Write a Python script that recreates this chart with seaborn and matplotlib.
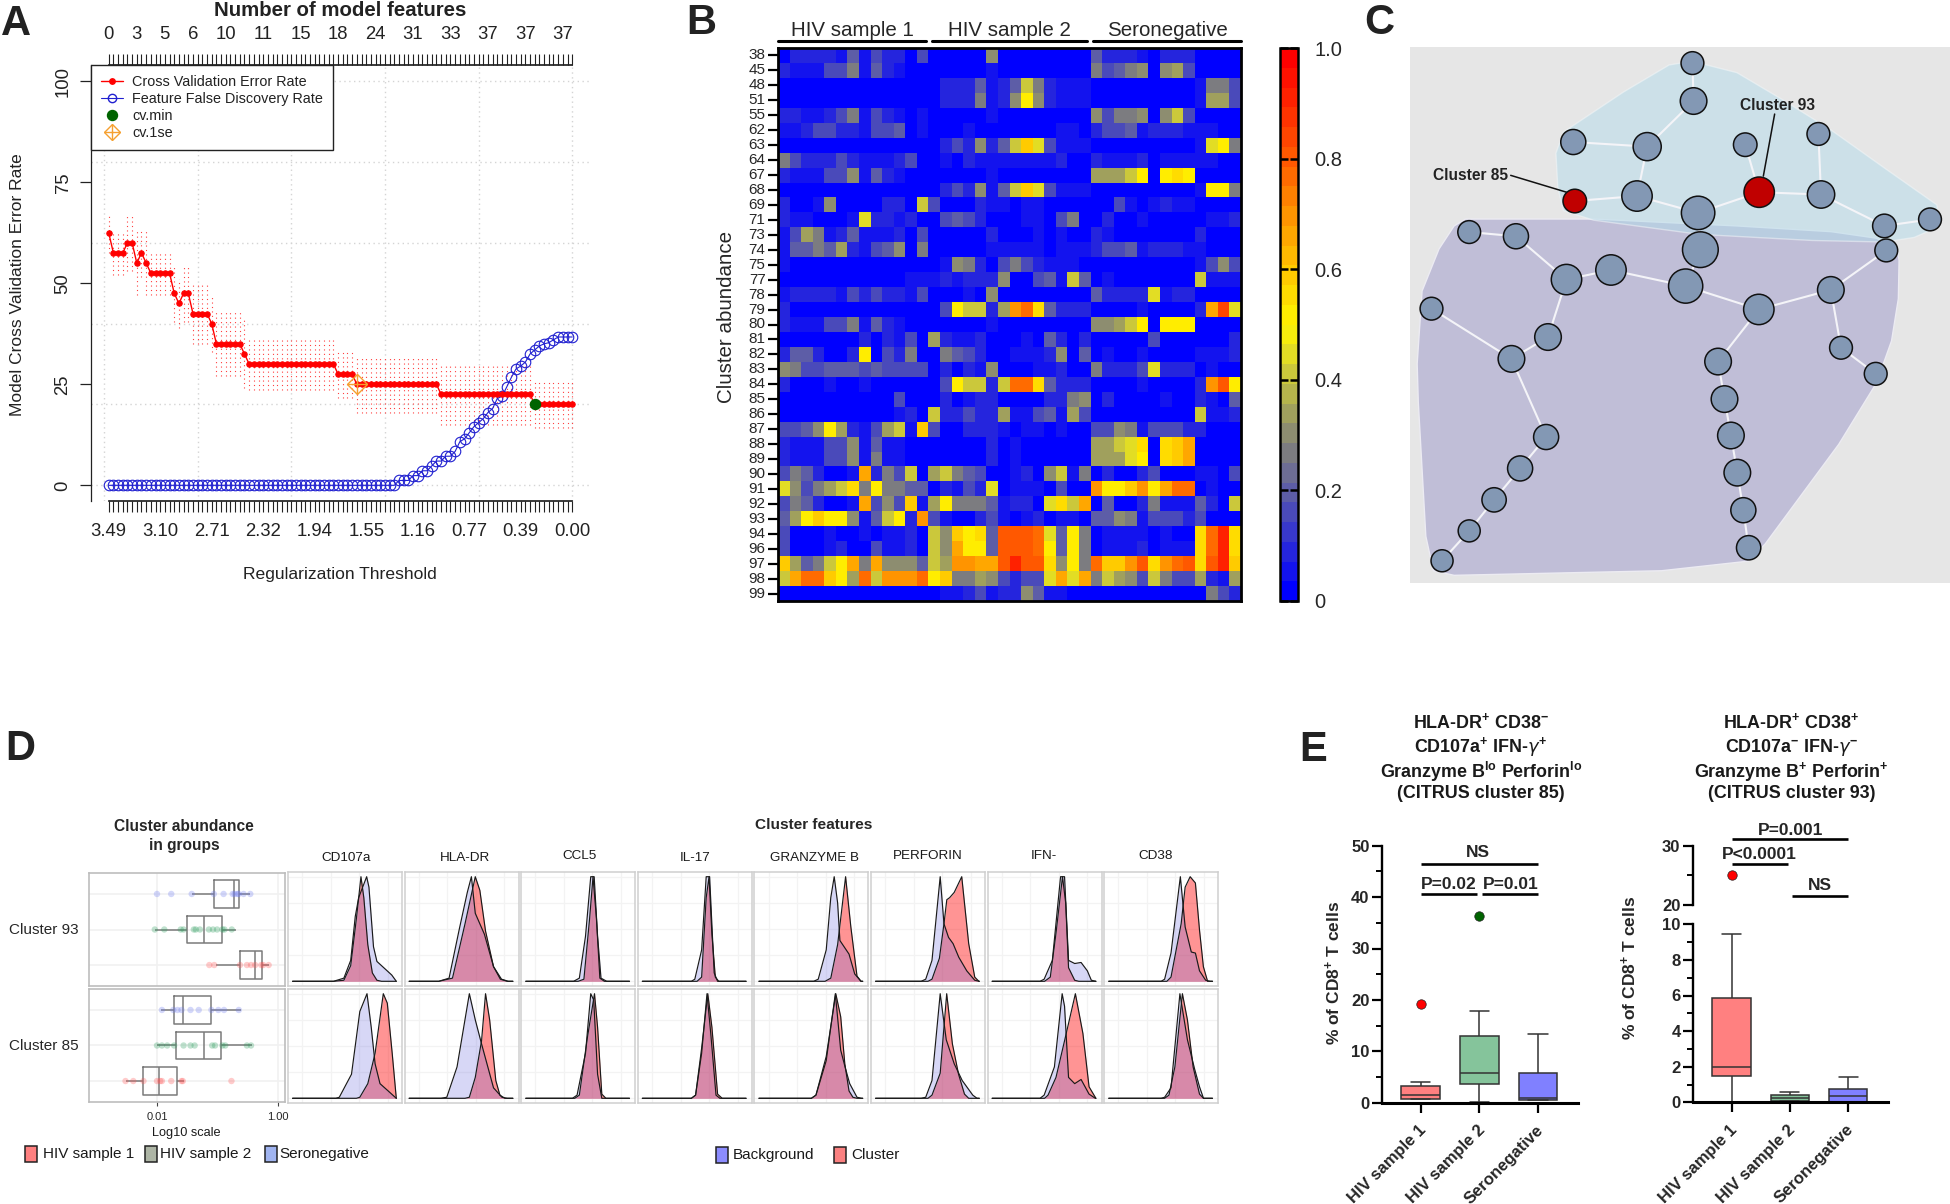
import numpy as np
import pandas as pd
import seaborn as sns
import matplotlib.pyplot as plt
from matplotlib.colors import LinearSegmentedColormap
from matplotlib.legend_handler import HandlerTuple
from matplotlib.lines import Line2D
from matplotlib.patches import Polygon, Rectangle
from matplotlib.transforms import ScaledTranslation

W, H = 1950, 1204

# panel A
cv_error = ([62.5] + [57.5] * 3 + [60] * 2 + [55, 57.5, 55] + [52.5] * 5 + [47.5, 45] + [47.5] * 2
            + [42.5] * 4 + [40] + [35] * 6 + [32.5] + [30] * 19 + [27.5] * 4 + [25] * 18
            + [22.5] * 20 + [20] * 9)
cv_se = ([5] + [5.5] * 3 + [7] * 2 + [8, 6, 8] + [5.5] * 5 + [7, 6] + [7] * 2
         + [7.5] * 4 + [7] + [8] * 6 + [8.5] + [6.5] * 19 + [6] * 4 + [7] * 18
         + [7.5] * 20 + [5.7] * 9)
fdr = [0] * 62 + [1.2, 1.2, 1.2, 2.4, 2.4, 3.6, 3.6, 4.8, 6.0, 6.0, 7.2, 7.2, 8.4, 10.8, 11.5, 13,
                  14.5, 15.5, 16.5, 18, 19, 21.5, 22, 24.3, 26.7, 28.8, 29.5, 30.5, 32.5, 33.5,
                  34.5, 35, 35.3, 36, 36.7, 36.7, 36.7, 36.7]
top_tick_pos = [0, 6, 12, 18, 25, 33, 41, 49, 57, 65, 73, 81, 89, 97]
top_tick_labels = ['0', '3', '5', '6', '10', '11', '15', '18', '24', '31', '33', '37', '37', '37']
bottom_tick_pos = [0, 11, 22, 33, 44, 55, 66, 77, 88, 99]
bottom_tick_labels = ['3.49', '3.10', '2.71', '2.32', '1.94', '1.55', '1.16', '0.77', '0.39', '0.00']
cv_min = (91, 20)
cv_1se = (53, 25)

# panel B, levels are in steps of 0.05
cluster_ids = [38, 45, 48, 51, 55, 62, 63, 64, 67, 68, 69, 71, 73, 74, 75, 77, 78, 79, 80, 81, 82, 83,
               84, 85, 86, 87, 88, 89, 90, 91, 92, 93, 94, 96, 97, 98, 99]
heat_levels = [
    [0,2,2,2,2,1,4,1,3,2,2,0,3, 0,0,0,0,0,6,0,0,0,0,0,0,0,0, 4,2,2,2,1,0,2,2,2,0,0,0,0],
    [2,1,1,1,3,3,5,1,4,2,1,0,0, 0,0,0,0,0,1,0,0,0,0,0,0,0,0, 5,3,4,5,6,0,6,7,3,0,0,0,0],
    [0,0,0,0,0,0,0,0,0,0,0,0,0, 0,2,2,2,4,1,2,4,8,5,2,1,1,1, 0,0,0,0,0,0,0,0,0,1,5,5,3],
    [0,0,0,0,0,0,0,0,0,0,0,0,0, 0,2,2,2,5,1,2,6,10,6,2,1,1,1, 0,0,0,0,0,0,0,0,0,1,7,7,3],
    [2,2,1,1,2,3,5,1,3,2,1,0,1, 0,0,0,0,0,1,0,0,0,0,0,0,0,0, 6,3,5,5,6,0,6,8,3,0,0,0,0],
    [1,1,2,3,3,2,2,1,3,3,4,0,1, 0,0,0,1,0,0,0,0,0,0,0,1,1,0, 2,3,3,4,1,2,2,2,1,1,1,0,0],
    [0,0,0,0,0,0,0,0,0,0,0,0,0, 0,2,3,2,6,2,4,8,12,9,3,1,1,1, 0,0,0,0,0,0,0,0,0,1,9,10,5],
    [5,3,2,2,2,3,2,1,1,1,2,3,0, 0,1,0,2,1,1,1,1,1,1,1,2,0,0, 2,1,1,1,2,0,1,1,1,1,1,0,0],
    [2,1,1,1,3,3,6,1,4,2,1,0,0, 0,0,0,0,0,1,0,0,0,0,0,0,0,0, 7,7,7,8,10,0,10,11,10,0,0,0,0],
    [0,0,0,0,0,0,0,0,0,0,0,0,0, 0,2,3,2,6,1,4,8,12,9,3,1,1,1, 0,0,0,0,0,0,0,0,0,1,10,10,5],
    [2,0,0,1,6,0,0,0,0,2,2,0,8, 3,0,0,0,2,1,1,0,1,1,0,0,0,0, 0,0,3,1,0,1,2,1,1,0,0,0,0],
    [2,1,1,0,0,0,1,9,2,2,1,2,0, 0,3,4,3,2,0,0,0,1,1,0,3,5,0, 0,2,0,0,1,0,0,0,0,0,1,1,2],
    [1,3,7,5,1,2,4,1,1,1,2,0,3, 0,0,0,0,0,2,0,0,0,1,0,1,0,0, 2,1,0,0,0,0,0,0,0,2,0,0,0],
    [1,4,4,5,4,7,2,1,3,4,6,0,5, 0,0,0,0,0,1,1,1,1,1,0,1,1,1, 2,3,3,4,1,2,2,2,1,1,0,0,0],
    [1,0,0,0,0,0,0,0,0,0,0,0,0, 0,1,6,5,2,0,3,5,3,2,1,1,1,0, 0,0,0,0,0,0,0,0,0,1,3,6,3],
    [0,0,0,0,0,0,0,0,0,0,0,1,1, 1,2,1,2,2,2,6,0,0,3,4,1,8,4, 0,1,0,0,0,0,0,0,0,8,1,1,1],
    [1,2,2,2,2,1,3,2,3,2,2,1,3, 0,0,0,1,0,6,0,0,0,0,0,0,0,0, 4,2,2,2,2,9,1,2,2,0,0,0,0],
    [2,0,0,0,0,0,0,0,0,0,0,0,0, 0,3,10,8,8,2,7,14,15,11,4,2,2,2, 0,0,0,0,1,0,0,0,0,2,13,17,9],
    [2,1,1,1,3,3,5,1,4,2,1,0,0, 0,0,0,0,0,1,0,0,0,0,0,0,0,0, 6,6,7,8,10,0,10,10,10,0,0,0,0],
    [0,0,0,0,0,0,0,2,0,2,1,3,0, 7,2,1,1,2,0,0,0,1,0,4,2,0,2, 0,0,0,0,0,3,0,0,0,0,0,0,2],
    [2,4,4,2,0,0,2,10,0,3,2,5,0, 0,5,4,3,2,0,0,1,1,1,2,6,0,4, 0,1,0,0,1,0,0,0,0,1,1,1,2],
    [6,5,3,3,4,4,4,3,4,3,3,3,3, 0,2,0,2,1,6,0,0,0,1,1,2,0,0, 5,2,2,2,3,9,2,2,2,0,1,0,0],
    [2,0,0,0,1,0,0,1,0,0,0,0,0, 0,3,10,8,8,2,8,15,15,11,4,2,2,2, 0,0,0,0,1,0,0,0,0,2,14,16,10],
    [0,0,0,0,0,0,0,0,0,0,3,0,0, 0,2,0,1,2,2,0,0,0,0,2,2,5,6, 0,2,0,0,0,0,1,0,0,2,1,0,4],
    [0,0,0,0,0,0,0,0,0,0,1,2,0, 8,2,2,3,2,2,7,1,1,3,4,1,7,3, 0,0,0,0,0,0,0,0,0,8,1,1,2],
    [3,3,4,6,10,7,2,1,3,7,8,1,12, 3,0,0,2,2,2,1,0,1,1,0,1,0,0, 3,3,6,5,1,3,3,3,2,2,0,0,0],
    [2,1,1,1,3,3,6,1,4,1,1,0,0, 0,0,0,0,0,2,0,1,0,0,0,0,0,0, 7,7,8,9,11,0,11,12,13,0,0,0,0],
    [2,1,1,1,3,3,6,1,5,1,1,0,0, 0,0,0,0,0,2,0,1,0,0,0,0,0,0, 7,7,7,9,10,0,11,12,13,0,0,0,0],
    [3,5,4,2,0,0,1,13,2,5,3,8,0, 7,8,5,4,3,0,0,1,2,0,6,8,1,5, 0,2,0,0,2,3,0,0,0,1,1,0,3],
    [9,6,3,5,7,8,11,5,10,5,5,4,4, 0,2,1,3,2,9,0,1,1,1,0,3,0,0, 14,10,10,12,14,10,13,15,15,0,1,0,0],
    [3,5,4,2,0,0,1,13,3,6,3,12,1, 7,10,5,5,5,4,1,2,2,0,9,11,8,13, 0,4,0,0,2,5,1,1,1,4,2,0,8],
    [4,7,10,12,10,10,6,1,4,8,10,2,14, 3,1,0,0,2,3,1,0,1,2,0,1,1,0, 4,4,6,5,1,3,3,3,2,3,0,0,0],
    [3,0,0,0,1,0,0,1,0,1,1,2,0, 8,6,12,10,11,4,16,16,16,15,9,4,10,5, 0,1,1,1,1,0,1,0,0,11,15,18,11],
    [3,0,0,0,1,2,0,0,3,1,1,2,0, 8,6,13,10,10,4,16,16,16,15,10,4,10,5, 0,1,1,1,2,0,1,1,1,11,15,18,11],
    [12,7,4,5,8,10,13,5,13,6,6,6,4, 8,7,14,14,13,13,16,18,16,16,11,6,10,5, 15,12,12,14,16,11,14,15,16,11,16,18,12],
    [8,13,15,15,12,10,7,15,8,14,14,14,15, 10,12,5,5,7,6,3,2,3,3,9,13,9,13, 5,8,7,6,3,8,5,3,3,7,2,1,7],
    [0,0,0,0,0,0,0,0,0,0,0,0,0, 0,1,1,2,3,1,2,2,6,4,1,1,0,0, 0,0,0,0,0,0,0,0,0,0,5,3,2],
]
group_names = ['HIV sample 1', 'HIV sample 2', 'Seronegative']

# panel C, positions are on the network layout
node_x = [882, 885, 566, 762, 1022, 1216, 570, 735, 1059, 1223, 897, 1391, 1512,
          903, 1396, 290, 414, 548, 666, 864, 1058, 1249, 190, 499, 402, 950, 1276, 1368,
          967, 494, 984, 425, 1001, 356, 1017, 290, 218, 1031]
node_y = [165, 264, 371, 383, 378, 350, 525, 512, 502, 508, 556, 590, 573,
          652, 654, 606, 617, 730, 705, 747, 808, 757, 806, 880, 937, 944, 908, 976,
          1042, 1141, 1137, 1223, 1234, 1305, 1332, 1386, 1464, 1430]
node_r = [30, 35, 33, 37, 31, 30, 31, 40, 40, 36, 44, 31, 30,
          47, 30, 30, 33, 40, 40, 45, 40, 35, 30, 35, 35, 35, 30, 30,
          35, 33, 35, 33, 35, 32, 33, 29, 29, 32]
red_nodes = [6, 8]
edges = [(0, 1), (1, 3), (2, 3), (3, 7), (6, 7), (7, 10), (10, 8), (8, 4), (8, 9), (9, 5), (9, 11), (11, 12),
         (10, 13), (11, 14), (13, 19), (15, 16), (16, 17), (17, 18), (18, 19), (19, 20), (20, 21), (21, 14),
         (21, 26), (26, 27), (17, 23), (23, 24), (22, 24), (24, 29), (29, 31), (31, 33), (33, 35), (35, 36),
         (20, 25), (25, 28), (28, 30), (30, 32), (32, 34), (34, 37)]
hull_top = [(880, 160), (1000, 190), (1120, 260), (1250, 340), (1400, 445), (1530, 535), (1540, 590), (1470, 620),
            (1390, 632), (1200, 628), (900, 612), (620, 575), (540, 550), (525, 490), (520, 400), (540, 345),
            (700, 240), (820, 170)]
hull_low = [(280, 572), (620, 572), (1000, 590), (1250, 605), (1370, 622), (1425, 650), (1430, 680), (1428, 780),
            (1410, 890), (1370, 1000), (1270, 1160), (1075, 1420), (1030, 1465), (800, 1490), (250, 1502), (195, 1490),
            (175, 1400), (155, 1050), (152, 950), (165, 760), (210, 650), (250, 590)]

# panel D boxes: five numbers and points for each group
box_93 = {'Seronegative': [0.0375, 0.0869, 0.184, 0.224, 0.348],
          'HIV sample 2': [0.0092, 0.0311, 0.0598, 0.117, 0.201],
          'HIV sample 1': [0.0955, 0.239, 0.412, 0.544, 0.70]}
box_85 = {'Seronegative': [0.0117, 0.0189, 0.027, 0.0793, 0.2427],
          'HIV sample 2': [0.010, 0.0208, 0.0589, 0.115, 0.375],
          'HIV sample 1': [0.00302, 0.00598, 0.011, 0.0211, 0.0275]}
points_93 = {'Seronegative': [0.010, 0.0172, 0.0375, 0.0869, 0.126, 0.178, 0.192, 0.214, 0.224, 0.270, 0.348],
             'HIV sample 2': [0.0092, 0.0132, 0.0247, 0.0275, 0.0406, 0.0438, 0.0512, 0.0721, 0.0843, 0.0984, 0.1205,
                              0.1303, 0.172],
             'HIV sample 1': [0.0733, 0.0883, 0.2355, 0.306, 0.358, 0.419, 0.529, 0.571, 0.70]}
points_85 = {'Seronegative': [0.01206, 0.0186, 0.0218, 0.0254, 0.0358, 0.0489, 0.0793, 0.1033, 0.1282, 0.2244],
             'HIV sample 2': [0.010, 0.01206, 0.01476, 0.0192, 0.0275, 0.0358, 0.0419, 0.0817, 0.091, 0.1205, 0.1343,
                              0.306, 0.358],
             'HIV sample 1': [0.00302, 0.00406, 0.00598, 0.010, 0.0113, 0.01206, 0.0172, 0.0254, 0.0267, 0.17]}
box_order = ['Seronegative', 'HIV sample 2', 'HIV sample 1']

# panel D densities, (position, height) read across each small panel
markers = ['CD107a', 'HLA-DR', 'CCL5', 'IL-17', 'GRANZYME B', 'PERFORIN', 'IFN-', 'CD38']
density_93_bg = [
    [(.40, 0), (.49, .03), (.55, .2), (.59, .62), (.62, .8), (.69, 1), (.71, .9), (.75, .33), (.78, .19), (.85, .12), (.91, .06)],
    [(.30, 0), (.39, .03), (.48, .5), (.55, .85), (.586, 1), (.62, .65), (.70, .45), (.78, .14), (.85, .02), (.91, 0)],
    [(.46, 0), (.51, .03), (.564, .43), (.61, 1), (.64, 1), (.67, .43), (.70, .03), (.75, 0)],
    [(.47, 0), (.5, .02), (.56, .3), (.60, 1), (.63, 1), (.67, .08), (.70, 0)],
    [(.52, 0), (.56, .02), (.63, .3), (.67, .8), (.70, 1), (.73, .75), (.75, .39), (.83, .26), (.88, .07), (.935, 0)],
    [(.44, 0), (.48, .02), (.535, .2), (.607, 1), (.64, .55), (.68, .42), (.72, .36), (.77, .23), (.84, .1), (.91, .01)],
    [(.46, 0), (.496, .02), (.568, .2), (.64, 1), (.675, 1), (.71, .2), (.764, .17), (.82, .18), (.875, .1), (.91, .01)],
    [(.50, 0), (.53, .02), (.586, .27), (.668, 1), (.71, .52), (.764, .28), (.80, .27), (.836, .1), (.89, .01), (.93, 0)],
]
density_93_cl = [
    [(.40, 0), (.49, .01), (.55, .15), (.60, .6), (.64, 1), (.665, .8), (.70, .35), (.74, .08), (.78, .01), (.82, 0)],
    [(.30, 0), (.42, .03), (.53, .55), (.62, 1), (.66, .87), (.71, .48), (.78, .14), (.84, .02), (.9, 0)],
    [(.5, 0), (.55, .02), (.60, .6), (.63, 1), (.66, .6), (.69, .03), (.73, 0)],
    [(.52, 0), (.56, .04), (.6, .8), (.625, 1), (.65, .45), (.68, .04), (.71, 0)],
    [(.62, 0), (.67, .03), (.73, .35), (.757, .6), (.80, 1), (.846, .52), (.90, .05), (.935, 0)],
    [(.5, 0), (.535, .02), (.6, .22), (.64, .55), (.665, .78), (.69, .8), (.73, .85), (.796, 1), (.857, .36), (.91, .04), (.946, 0)],
    [(.5, 0), (.55, .04), (.6, .46), (.657, 1), (.685, .75), (.71, .13), (.764, .01), (.8, 0)],
    [(.55, 0), (.586, .04), (.675, .55), (.71, .9), (.754, 1), (.8, .94), (.836, .49), (.87, .14), (.907, 0)],
]
density_85_bg = [
    [(.42, 0), (.45, .01), (.557, .23), (.63, .83), (.693, 1), (.73, .68), (.764, .33), (.807, .14), (.879, .07)],
    [(.32, 0), (.37, .01), (.46, .3), (.568, 1), (.62, .75), (.675, .52), (.78, .1), (.854, .01), (.9, 0)],
    [(.45, 0), (.49, .03), (.564, .43), (.61, 1), (.636, .94), (.67, .23), (.707, 0)],
    [(.47, 0), (.507, .03), (.56, .43), (.607, 1), (.64, .62), (.686, .03), (.72, 0)],
    [(.5, 0), (.54, .03), (.63, .36), (.71, 1), (.757, .46), (.80, .28), (.836, .14), (.9, .01), (.94, 0)],
    [(.44, 0), (.48, .01), (.535, .17), (.607, 1), (.66, .56), (.73, .33), (.80, .17), (.893, .03), (.93, 0)],
    [(.46, 0), (.496, .03), (.586, .3), (.654, 1), (.675, .88), (.71, .2), (.764, .14), (.82, .18), (.89, .04), (.945, 0)],
    [(.5, 0), (.53, .01), (.586, .1), (.664, 1), (.73, .56), (.793, .28), (.836, .11), (.871, 0)],
]
density_85_cl = [
    [(.6, 0), (.63, .01), (.7, .14), (.764, .43), (.836, 1), (.871, .91), (.914, .43)],
    [(.53, 0), (.568, .01), (.62, .2), (.675, .55), (.71, 1), (.746, .75), (.8, .17), (.836, .03), (.88, 0)],
    [(.47, 0), (.51, .03), (.582, .59), (.643, 1), (.67, .68), (.707, .04), (.743, 0)],
    [(.47, 0), (.507, .03), (.56, .48), (.614, 1), (.65, .68), (.70, .04), (.74, 0)],
    [(.5, 0), (.54, .03), (.63, .4), (.714, 1), (.757, .78), (.793, .33), (.83, .07), (.864, .01), (.9, 0)],
    [(.5, 0), (.535, .03), (.607, .24), (.664, 1), (.714, .52), (.768, .23), (.82, .04), (.857, 0)],
    [(.5, 0), (.53, .03), (.6, .2), (.675, .55), (.77, 1), (.836, .62), (.89, .11)],
    [(.53, 0), (.568, .03), (.62, .3), (.686, 1), (.73, .75), (.78, .3), (.836, .04), (.871, 0)],
]

# panel E: low whisker, q1, median, q3, high whisker
e_groups = ['HIV sample 1', 'HIV sample 2', 'Seronegative']
stats_85 = [[0.7, 0.8, 1.5, 3.3, 4.1], [0.2, 3.7, 5.7, 13.0, 17.8], [0.5, 0.6, 0.9, 5.7, 13.4]]
stats_93 = [[0.0, 1.5, 2.0, 5.85, 9.45], [0.05, 0.1, 0.22, 0.4, 0.6], [0.0, 0.02, 0.35, 0.75, 1.4]]
outliers_85 = [19.2, 36.4]
outlier_93 = 25.0
e_palette = ['#ff8080', '#85c49b', '#8080ff']

sns.set_theme(style='white')
plt.rcParams['font.family'] = ['Liberation Sans', 'DejaVu Sans']
plt.rcParams['mathtext.default'] = 'regular'

fig = plt.figure(figsize=(W / 100, H / 100), dpi=100, facecolor='white')


def px_axes(x0, y0, x1, y1, **kw):
    return fig.add_axes([x0 / W, 1 - y1 / H, (x1 - x0) / W, (y1 - y0) / H], **kw)


def label(x, y, s, **kw):
    kw.setdefault('ha', 'center')
    kw.setdefault('va', 'center')
    fig.text(x / W, 1 - y / H, s, **kw)


def hline(x0, x1, y, lw=2.0):
    fig.add_artist(Line2D([x0 / W, x1 / W], [1 - y / H, 1 - y / H], color='black', lw=lw))


def square(x, y, color):
    fig.add_artist(Rectangle(((x - 6) / W, 1 - (y + 8) / H), 12 / W, 16 / H, facecolor=color,
                             edgecolor='#222222', lw=1.1, transform=fig.transFigure))


for letter, x, y in [('A', 16, 24), ('B', 701, 23), ('C', 1379, 23), ('D', 20, 749), ('E', 1313, 750)]:
    label(x, y, letter, fontsize=30, fontweight='bold', color='#222222')

# ---- A
ax = px_axes(91, 65, 590, 501)
idx = np.arange(len(cv_error))
ax.set_xlim(-3.78, 102.8)
ax.set_ylim(-3.88, 104)
for v in [0, 20, 40, 60, 80, 100]:
    ax.axhline(v, color='#d4d4d4', lw=1, ls=(0, (1, 2.5)), zorder=0)
for v in [-1, 19, 39, 59, 79, 99]:
    ax.axvline(v, color='#d4d4d4', lw=1, ls=(0, (1, 2.5)), zorder=0)
err = np.array(cv_se)
ax.vlines(idx, np.array(cv_error) - err, np.array(cv_error) + err, color='#ff4040', lw=0.8, ls=(0, (1, 3)), zorder=1)
sns.lineplot(x=idx, y=fdr, color='#2020d0', marker='o', ms=7.6, mfc='none', mec='#2020d0', mew=0.8, lw=0.8,
             estimator=None, ax=ax, zorder=2)
sns.lineplot(x=idx, y=cv_error, color='#ff0000', marker='o', ms=3.9, mec='#ff0000', lw=1, estimator=None, ax=ax, zorder=3)
ax.plot(*cv_min, 'o', color='#006400', ms=7.2, zorder=4)
ax.plot(*cv_1se, 'D', mfc='none', mec='#f5a030', ms=10.5, mew=1, zorder=5)
ax.plot(*cv_1se, '+', mec='#f5a030', ms=15, mew=1, zorder=5)
ax.spines['right'].set_visible(False)
ax.spines['left'].set_color('#222222')
ax.spines['left'].set_linewidth(0.9)
ax.spines['bottom'].set_bounds(0, 99)
ax.spines['top'].set_bounds(0, 99)
ax.spines['bottom'].set_color('#222222')
ax.spines['top'].set_color('#222222')
ax.set_yticks([0, 25, 50, 75, 100])
ax.set_yticklabels(['0', '25', '50', '75', '100'], rotation=90, va='center', fontsize=13.3, color='#222222')
ax.tick_params(axis='y', left=True, length=8, width=0.9, pad=6, color='#222222')
ax.set_xticks(idx)
ax.set_xticklabels([])
ax.tick_params(axis='x', bottom=True, top=True, length=8, width=0.8, color='#222222')
for p, t in zip(bottom_tick_pos, bottom_tick_labels):
    ax.annotate(t, (p, 0), xycoords=('data', 'axes fraction'), xytext=(0, -22), textcoords='offset points',
                ha='center', va='center', fontsize=13.3, color='#222222')
for p, t in zip(top_tick_pos, top_tick_labels):
    ax.annotate(t, (p, 1), xycoords=('data', 'axes fraction'), xytext=(0, 22), textcoords='offset points',
                ha='center', va='center', fontsize=13.3, color='#222222')
handles = [Line2D([], [], color='#ff0000', marker='o', ms=3.9, lw=1),
           Line2D([], [], color='#2020d0', marker='o', ms=6, mfc='none', lw=0.8),
           Line2D([], [], color='#006400', marker='o', ms=7.2, lw=0),
           (Line2D([], [], marker='D', mfc='none', mec='#f5a030', ms=8.5, lw=0),
            Line2D([], [], marker='+', mec='#f5a030', ms=12, lw=0))]
ax.legend(handles, ['Cross Validation Error Rate', 'Feature False Discovery Rate', 'cv.min', 'cv.1se'],
          handler_map={tuple: HandlerTuple(ndivide=1, pad=0)}, loc='upper left', bbox_to_anchor=(0, 1),
          borderaxespad=0, fancybox=False, framealpha=1, edgecolor='#222222', fontsize=10.4, labelspacing=0.2,
          handlelength=1.5, handletextpad=0.65, borderpad=0.7, labelcolor='#222222')
ax.get_legend().get_frame().set_linewidth(1)
label(340, 11, 'Number of model features', fontsize=14.7, fontweight='bold', color='#222222')
label(340, 575, 'Regularization Threshold', fontsize=12.6, color='#222222')
label(18, 285, 'Model Cross Validation Error Rate', fontsize=12.5, rotation=90, color='#222222')

# ---- B
heat_cmap = LinearSegmentedColormap.from_list('heat', [
    (0.0, (0, 0, 1)), (0.05, '#1919e8'), (0.1, '#3232d2'), (0.15, '#4b4bb9'), (0.2, '#6464a0'),
    (0.25, '#787884'), (0.3, '#8f8f6e'), (0.35, '#a9a955'), (0.4, '#c6c440'), (0.45, '#e6e020'),
    (0.5, '#fff500'), (0.6, '#ffc800'), (0.7, '#ff9600'), (0.8, '#ff5f00'), (0.9, '#ff2d00'), (1.0, '#ff0000')], N=28)
ax = px_axes(778, 48, 1241, 601)
cax = px_axes(1280, 48, 1298, 601)
sns.heatmap(np.array(heat_levels) / 20, vmin=0, vmax=1, cmap=heat_cmap, ax=ax, cbar_ax=cax,
            yticklabels=cluster_ids, xticklabels=False, cbar_kws={'ticks': [0, .2, .4, .6, .8, 1]})
for s in ax.spines.values():
    s.set_visible(True)
    s.set_linewidth(2)
    s.set_color('black')
ax.tick_params(axis='y', left=True, length=7, width=1.6, pad=2, labelsize=11, labelrotation=0, color='black')
cax.set_yticklabels(['0', '0.2', '0.4', '0.6', '0.8', '1.0'], fontsize=14.5)
cax.set_axisbelow(False)
cax.tick_params(axis='y', left=True, right=True, direction='in', length=5.5, width=1.8, color='black', pad=12)
cbar = ax.collections[0].colorbar
cbar.outline.set_linewidth(1.8)
cbar.outline.set_edgecolor('black')
for (x0, x1), name in zip([(778, 926), (931.5, 1087), (1093, 1241)], group_names):
    hline(x0, x1, 41, lw=2.2)
    label((x0 + x1) / 2, 30.5, name, fontsize=14.8)
label(727, 317, 'Cluster abundance', fontsize=14.8, rotation=90)

# ---- C
ax = px_axes(1410, 47, 1950, 583)
ax.set_xlim(133, 1565)
ax.set_ylim(1522, 123)
ax.set_facecolor('#e6e6e6')
ax.set_xticks([])
ax.set_yticks([])
for s in ax.spines.values():
    s.set_visible(False)
ax.add_patch(Polygon(hull_low, closed=True, facecolor='#c0bed7', edgecolor='#ecebf2', lw=1, joinstyle='round'))
ax.add_patch(Polygon(hull_top, closed=True, facecolor='#b4dcea', alpha=0.5, edgecolor='#f4f8fa', lw=1, joinstyle='round'))
for a, b in edges:
    ax.plot([node_x[a], node_x[b]], [node_y[a], node_y[b]], color='#f4f4f8', lw=1.5, zorder=2)
nx, ny, nr = np.array(node_x), np.array(node_y), np.array(node_r, dtype=float)
is_red = np.isin(np.arange(len(nx)), red_nodes)
sizes = (2 * nr * 0.38 / 1.389) ** 2
sns.scatterplot(x=nx[~is_red], y=ny[~is_red], s=sizes[~is_red], color='#8398b4', edgecolor='#111111', linewidth=1.1,
                ax=ax, zorder=3, legend=False)
sns.scatterplot(x=nx[is_red], y=ny[is_red], s=sizes[is_red], color='#c00000', edgecolor='#111111', linewidth=1.1,
                ax=ax, zorder=3, legend=False)
ax.set_xlim(133, 1565)
ax.set_ylim(1522, 123)
ax.set_xlabel('')
ax.plot([1100, 1070], [298, 460], color='#111111', lw=1.1, zorder=2.5)
ax.plot([400, 548], [458, 502], color='#111111', lw=1.1, zorder=2.5)
ax.text(1108, 275, 'Cluster 93', fontsize=11.2, fontweight='bold', ha='center', va='center', color='#222222')
ax.text(293, 458, 'Cluster 85', fontsize=11.2, fontweight='bold', ha='center', va='center', color='#222222')

# ---- D
strip_colors = {'Seronegative': '#6f7cf0', 'HIV sample 2': '#2e9e5f', 'HIV sample 1': '#ff5555'}
for (y0, y1), box, pts, name in [((873, 986), box_93, points_93, 'Cluster 93'), ((989, 1102), box_85, points_85, 'Cluster 85')]:
    ax = px_axes(88.6, y0, 284.5, y1)
    box_df = pd.DataFrame([(g, v) for g in box_order for v in box[g]], columns=['group', 'value'])
    pts_df = pd.DataFrame([(g, v) for g in box_order for v in pts[g]], columns=['group', 'value'])
    sns.stripplot(data=pts_df, x='value', y='group', order=box_order, hue='group', palette=strip_colors, jitter=False,
                  size=4.6, alpha=0.3, linewidth=0, legend=False, log_scale=True, ax=ax)
    sns.boxplot(data=box_df, x='value', y='group', order=box_order, whis=(0, 100), width=0.78, fill=False,
                color='#7a7a7a', linewidth=1.1, showcaps=False, log_scale=True, ax=ax)
    ax.set_xlim(10 ** -3.13, 10 ** 0.107)
    ax.set_ylim(2.59, -0.59)
    ax.set_xlabel('')
    ax.set_ylabel('')
    ax.set_yticks([0, 1, 2])
    ax.set_yticklabels([])
    ax.set_xticks([0.01, 1])
    ax.minorticks_off()
    ax.grid(True, color='#f1f1f1', lw=1.2)
    ax.set_axisbelow(True)
    ax.tick_params(axis='both', length=0)
    ax.tick_params(axis='x', labelbottom=False)
    for s in ax.spines.values():
        s.set_color('#bdbdbd')
        s.set_linewidth(1.2)
    label(43.7, (y0 + y1) / 2, name, fontsize=11)
    if y0 == 989:
        ax.tick_params(axis='x', bottom=True, length=3, width=0.8, color='#444444', labelbottom=True, labelsize=8, pad=4)
        ax.set_xticklabels(['0.01', '1.00'])

for row, (y0, y1), bg, cl in [(0, (872, 986), density_93_bg, density_93_cl), (1, (989, 1103), density_85_bg, density_85_cl)]:
    for col, marker in enumerate(markers):
        x0 = 288 + 116.6 * col
        ax = px_axes(x0, y0, x0 + 114, y1)
        ax.set_xlim(0, 1)
        ax.set_ylim(-0.045, 1.045)
        ax.set_xticks([0.125, 0.375, 0.625, 0.875])
        ax.set_yticks([0, 0.25, 0.5, 0.75, 1])
        ax.set_xticklabels([])
        ax.set_yticklabels([])
        ax.tick_params(length=0)
        ax.grid(True, color='#f3f3f3', lw=0.9)
        ax.set_axisbelow(True)
        for s in ax.spines.values():
            s.set_color('#cfcfcf')
            s.set_linewidth(1.1)
        for pts, color, alpha in [(cl[col], '#ff0000', 0.42), (bg[col], '#7070e0', 0.28)]:
            xs = [0.04] + [p[0] for p in pts] + [0.95]
            ys = [0] + [p[1] for p in pts] + [0]
            ax.fill_between(xs, ys, color=color, alpha=alpha, lw=0)
            sns.lineplot(x=xs, y=ys, color='#1a1a1a', lw=0.85, estimator=None, sort=False, ax=ax)
        ax.set_xlim(0, 1)
        ax.set_ylim(-0.045, 1.045)
        ax.set_xlabel('')
        ax.set_ylabel('')

title_pos = [(346, 858), (465, 858), (580, 856), (695, 858), (814, 858), (928, 856), (1043.6, 856), (1155.5, 856)]
for (x, y), marker in zip(title_pos, markers):
    label(x, y, marker, fontsize=9.7, color='#1a1a1a')
label(184, 836, 'Cluster abundance\nin groups', fontsize=11.2, fontweight='bold', linespacing=1.35)
label(813.5, 825, 'Cluster features', fontsize=11.1, fontweight='bold')
label(186, 1133, 'Log10 scale', fontsize=9.2, color='#1a1a1a')
for x, text_x, color, name in [(31.4, 43, '#ff8080', 'HIV sample 1'), (150.6, 160, '#adb5a5', 'HIV sample 2'),
                               (271.4, 279, '#a0b4f0', 'Seronegative')]:
    square(x, y=1153.5, color=color)
    label(text_x, 1154, name, fontsize=11, ha='left', color='#1a1a1a')
for x, text_x, color, name in [(721.6, 733, '#8c8cff', 'Background'), (840, 851, '#fa8080', 'Cluster')]:
    square(x, y=1155, color=color)
    label(text_x, 1155, name, fontsize=11, ha='left', color='#1a1a1a')


# ---- E
def e_boxes(ax, stats):
    df = pd.DataFrame([(g, v) for g, row in zip(e_groups, stats) for v in row], columns=['group', 'value'])
    sns.boxplot(data=df, x='group', y='value', order=e_groups, hue='group', hue_order=e_groups, palette=e_palette,
                saturation=1, legend=False, whis=(0, 100), width=0.656, linecolor='#333333', linewidth=1.1, ax=ax)
    ax.set_xlabel('')
    ax.set_ylabel('')


def e_style(ax):
    ax.spines['top'].set_visible(False)
    ax.spines['right'].set_visible(False)
    ax.spines['left'].set_linewidth(1.7)
    ax.spines['left'].set_color('black')
    ax.tick_params(axis='y', which='major', left=True, length=7, width=1.6, labelsize=12, pad=2, color='black')
    ax.tick_params(axis='y', which='minor', left=True, length=4, width=1.4, color='black')
    for t in ax.get_yticklabels():
        t.set_fontweight('bold')


def e_xaxis(ax):
    ax.spines['bottom'].set_linewidth(2.2)
    ax.spines['bottom'].set_color('black')
    ax.set_xticks([0, 1, 2])
    ax.set_xticklabels(e_groups, rotation=45, ha='right', rotation_mode='anchor', va='center', fontsize=12, fontweight='bold')
    ax.tick_params(axis='x', bottom=True, length=7, width=1.6, pad=11, color='black')
    shift = ScaledTranslation(3 / 100, 0, fig.dpi_scale_trans)
    for t in ax.get_xticklabels():
        t.set_transform(t.get_transform() + shift)


def bar(ax, x0, x1, y, text, text_y, text_x=None):
    ax.plot([x0, x1], [y, y], color='black', lw=1.9, clip_on=False, solid_capstyle='butt')
    ax.text((x0 + x1) / 2 if text_x is None else text_x, text_y, text, ha='center', va='center', fontsize=12.5,
            fontweight='bold', clip_on=False)


ax = px_axes(1382, 845.7, 1578, 1102.7)
e_boxes(ax, stats_85)
sns.stripplot(x=e_groups[:2], y=outliers_85, order=e_groups, hue=e_groups[:2], palette=['#ff0000', '#006400'], jitter=False,
              size=6.8, linewidth=0.5, edgecolor='#222222', legend=False, ax=ax, zorder=5)
ax.set_xlim(-0.66, 2.68)
ax.set_ylim(0, 50)
ax.set_yticks([0, 10, 20, 30, 40, 50])
ax.set_yticks([5, 15, 25, 35, 45], minor=True)
e_style(ax)
e_xaxis(ax)
bar(ax, 0, 2, 46.4, 'NS', 48.6, text_x=0.98)
bar(ax, 0, 0.955, 40.6, 'P=0.02', 42.5, text_x=0.47)
bar(ax, 1.04, 2, 40.6, 'P=0.01', 42.5, text_x=1.53)
label(1333, 973, '% of CD8$^{+}$ T cells', fontsize=12.5, fontweight='bold', rotation=90)

low = px_axes(1693, 924.3, 1888, 1102.3)
e_boxes(low, stats_93)
low.set_xlim(-0.66, 2.68)
low.set_ylim(0, 10)
low.set_yticks([0, 2, 4, 6, 8, 10])
low.set_yticks([1, 3, 5, 7, 9], minor=True)
e_style(low)
e_xaxis(low)
up = px_axes(1693, 845.7, 1888, 905)
sns.stripplot(x=e_groups[:1], y=[outlier_93], order=e_groups, color='#ff0000', jitter=False, size=6.8, linewidth=0.5,
              edgecolor='#222222', legend=False, ax=up, zorder=5)
up.set_xlim(-0.66, 2.68)
up.set_ylim(20, 30)
up.set_yticks([20, 30])
up.set_yticks([25], minor=True)
e_style(up)
up.spines['bottom'].set_visible(False)
up.set_xticks([])
up.set_xlabel('')
up.set_ylabel('')
up.patch.set_alpha(0)
bar(up, 0.015, 2, 31.2, 'P=0.001', 32.6)
bar(up, 0.015, 0.96, 26.9, 'P<0.0001', 28.5, text_x=0.47)
bar(up, 1.03, 2, 21.6, 'NS', 23.3)
label(1629, 968, '% of CD8$^{+}$ T cells', fontsize=12.5, fontweight='bold', rotation=90)

title_85 = ['HLA-DR$^{+}$ CD38$^{-}$', 'CD107a$^{+}$ IFN-$\\mathit{\\gamma}^{+}$',
            'Granzyme B$^{lo}$ Perforin$^{lo}$', '(CITRUS cluster 85)']
title_93 = ['HLA-DR$^{+}$ CD38$^{+}$', 'CD107a$^{-}$ IFN-$\\mathit{\\gamma}^{-}$',
            'Granzyme B$^{+}$ Perforin$^{+}$', '(CITRUS cluster 93)']
for x, lines in [(1481, title_85), (1791.5, title_93)]:
    for y, line in zip([722, 747, 772, 794], lines):
        label(x, y, line, fontsize=12.9, fontweight='bold', color='#1a1a1a')

fig.savefig('out.png', dpi=100)
